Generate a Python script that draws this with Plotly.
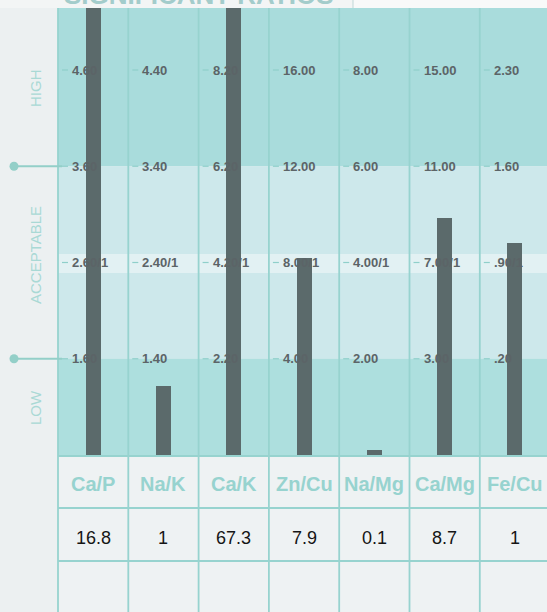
import plotly.graph_objects as go

# ---------------- data ----------------
categories = ["Ca/P", "Na/K", "Ca/K", "Zn/Cu", "Na/Mg", "Ca/Mg", "Fe/Cu"]
values = [16.8, 1, 67.3, 7.9, 0.1, 8.7, 1]
high_label = [4.60, 4.40, 8.20, 16.00, 8.00, 15.00, 2.30]
high_limit = [3.60, 3.40, 6.20, 12.00, 6.00, 11.00, 1.60]
ideal = [2.60, 2.40, 4.20, 8.00, 4.00, 7.00, 0.90]
low_limit = [1.60, 1.40, 2.20, 4.00, 2.00, 3.00, 0.20]
value_text = ["16.8", "1", "67.3", "7.9", "0.1", "8.7", "1"]
header_title = "SIGNIFICANT RATIOS"
zone_names = ["HIGH", "ACCEPTABLE", "LOW"]

# ---------------- layout helpers (form geometry) ----------------
W, H = 547, 612
PX_PER_COL = 70.3
PX_PER_LEVEL = 96.25
PLOT_LEFT_PX = 58
BASE_PX = 455
FORM_TOP = (BASE_PX - 8) / PX_PER_LEVEL   # top of the printed bands
IDEAL_LEVEL = 2.07                         # where the software places the ideal ratio


def xc(px):
    return (px - PLOT_LEFT_PX) / PX_PER_COL - 0.5


def lv(py):
    return (BASE_PX - py) / PX_PER_LEVEL


def level(v, lo, idl, hi):
    if v <= lo:
        L = v / lo
    elif v <= idl:
        L = 1 + (v - lo) / (idl - lo) * (IDEAL_LEVEL - 1)
    elif v <= hi:
        L = IDEAL_LEVEL + (v - idl) / (hi - idl) * (3 - IDEAL_LEVEL)
    else:
        L = 3 + (v - hi) / (hi - idl)
    return min(L, FORM_TOP)


def fmt(v):
    s = f"{v:.2f}"
    return s[1:] if s.startswith("0.") else s


n = len(categories)
bar_levels = [level(values[i], low_limit[i], ideal[i], high_limit[i]) for i in range(n)]

X0, X1 = xc(0), xc(W)
Y0, Y1 = lv(H), lv(0)

TEAL_LINE = "#97d3cf"
HIGH_C = "#a9dcdc"
ACC_C = "#cde8eb"
IDEAL_C = "#e2f1f3"
LOW_C = "#addfde"
BG = "#ecf0f1"
LABEL_C = "#5c6467"
ZONE_C = "#a9d9d5"

shapes = []


def rect(x0, x1, y0, y1, color, layer="below"):
    shapes.append(dict(type="rect", xref="x", yref="y", x0=x0, x1=x1, y0=y0, y1=y1,
                       fillcolor=color, line=dict(width=0), layer=layer))


def line(x0, x1, y0, y1, color, width, layer="below"):
    shapes.append(dict(type="line", xref="x", yref="y", x0=x0, x1=x1, y0=y0, y1=y1,
                       line=dict(color=color, width=width), layer=layer))


# header strip
rect(X0, X1, FORM_TOP, Y1, "#f3f5f5")
rect(xc(353), X1, FORM_TOP, Y1, "#f8f9f9")
line(xc(353), xc(353), FORM_TOP, Y1, "#c9dcdc", 1.2)
# bands
rect(-0.5, X1, 3, FORM_TOP, HIGH_C)
rect(-0.5, X1, 1, 3, ACC_C)
rect(-0.5, X1, lv(273), lv(254), IDEAL_C)
rect(-0.5, X1, 0, 1, LOW_C)
# table background
rect(-0.5, X1, Y0, 0, "#eef2f3")
# column lines
for k in range(n + 1):
    line(k - 0.5, k - 0.5, Y0, FORM_TOP, TEAL_LINE, 1.8)
# table horizontal lines
for yy in [lv(456), lv(508), lv(561)]:
    line(-0.5, X1, yy, yy, TEAL_LINE, 1.8)

annotations = []
# little teal ticks + labels in each column
label_rows = [(4, high_label, False), (3, high_limit, False), (2, ideal, True), (1, low_limit, False)]
for i in range(n):
    left = i - 0.5
    for L, arr, ratio in label_rows:
        line(left + 4 / PX_PER_COL, left + 10 / PX_PER_COL, L, L, "#8fcfca", 1.2)
        txt = fmt(arr[i]) + ("/1" if ratio else "")
        annotations.append(dict(x=left + 12 / PX_PER_COL, y=L, xref="x", yref="y", text="<b>" + txt + "</b>",
                                showarrow=False, xanchor="left", yanchor="middle",
                                font=dict(family="Liberation Sans, Arial, sans-serif", size=13, color=LABEL_C)))
    # category label
    annotations.append(dict(x=i, y=lv(484), xref="x", yref="y", text="<b>" + categories[i] + "</b>",
                            showarrow=False, xanchor="center", yanchor="middle",
                            font=dict(family="Liberation Sans, Arial, sans-serif",
                                      size=20, color="#97d3cf")))
    # value
    annotations.append(dict(x=i, y=lv(538), xref="x", yref="y", text=value_text[i],
                            showarrow=False, xanchor="center", yanchor="middle",
                            font=dict(family="Liberation Sans, Arial, sans-serif", size=18, color="#151515")))

# zone names (rotated)
zone_y = [lv(88), lv(255), lv(408)]
for name, yy in zip(zone_names, zone_y):
    annotations.append(dict(x=xc(35), y=yy, xref="x", yref="y", text=name, textangle=-90,
                            showarrow=False, xanchor="center", yanchor="middle",
                            font=dict(family="Liberation Sans, Arial, sans-serif",
                                      size=15, color=ZONE_C)))

# header title, mostly cut off at the top edge of the page
annotations.append(dict(x=(62 / W), y=1, xref="paper", yref="paper", text="<b>" + header_title + "</b>",
                        showarrow=False, xanchor="left", yanchor="bottom", yshift=-12,
                        font=dict(family="Liberation Sans, Arial, sans-serif", size=26, color="#a3cccb")))

fig = go.Figure()

# boundary markers on the left
fig.add_trace(go.Scatter(x=[xc(14), xc(62), None, xc(14), xc(62)], y=[3, 3, None, 1, 1],
                         mode="lines", line=dict(color="#93cfc8", width=2), hoverinfo="skip", showlegend=False))
fig.add_trace(go.Scatter(x=[xc(14), xc(14)], y=[3, 1], mode="markers",
                         marker=dict(size=9, color="#93cfc8"), hoverinfo="skip", showlegend=False))

fig.add_trace(go.Bar(x=list(range(n)), y=bar_levels, width=15 / PX_PER_COL,
                     marker=dict(color="#5b6a6b", line=dict(width=0)),
                     hovertext=[f"{c}: {v}" for c, v in zip(categories, values)],
                     hoverinfo="text", showlegend=False))

fig.update_layout(
    width=W, height=H, autosize=False,
    margin=dict(l=0, r=0, t=0, b=0),
    paper_bgcolor=BG, plot_bgcolor=BG,
    shapes=shapes, annotations=annotations,
    xaxis=dict(range=[X0, X1], visible=False, fixedrange=True),
    yaxis=dict(range=[Y0, Y1], visible=False, fixedrange=True),
    bargap=0,
)

fig.write_html("out.html", config={"displayModeBar": False},
               post_script="document.body.style.margin='0';document.body.style.overflow='hidden';")
